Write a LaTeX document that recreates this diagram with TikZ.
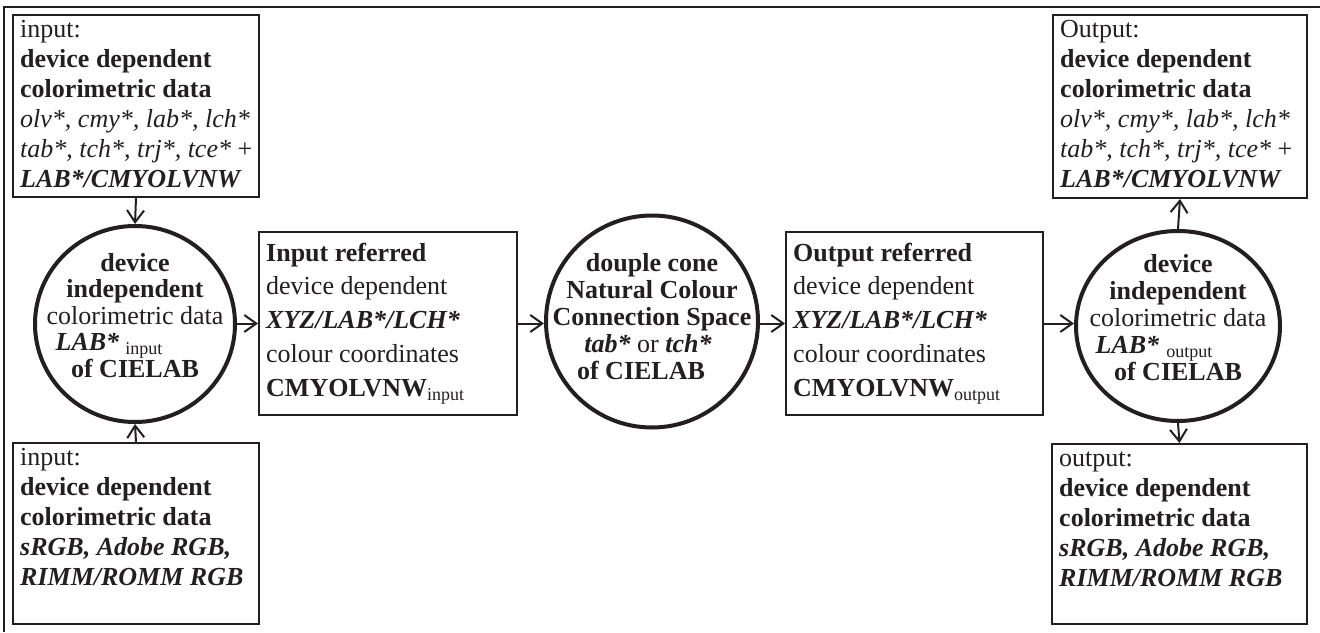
\documentclass[tikz,border=0pt]{standalone}
\usepackage{fontspec}
\setmainfont{Liberation Serif}
\usetikzlibrary{shapes.geometric,arrows.meta}
\definecolor{ink}{RGB}{35,31,32}

% stacked lines of text, first baseline is the node's base
\newcommand\leftstack[3]{\begin{minipage}[t]{#1pt}\raggedright\fontsize{26}{#2}\selectfont #3\end{minipage}}
\newcommand\centerstack[3]{\begin{minipage}[t]{#1pt}\centering\fontsize{26}{#2}\selectfont #3\end{minipage}}
\newcommand\lowsub[1]{{\fontsize{18}{18}\selectfont\raisebox{-4pt}{#1}}}
\newcommand\bi[1]{\textbf{\textit{#1}}}
% trailing room kept at the end of a centred line
\newcommand\padright[1]{\hspace*{#1}\mbox{}}

\begin{document}
\begin{tikzpicture}[x=1pt,y=-1pt,
  frameline/.style={draw=ink, line width=2pt},
  databox/.style={draw=ink, line width=2pt, rectangle, inner sep=0pt, anchor=north west},
  hub/.style={draw=ink, line width=4pt, ellipse, inner sep=0pt},
  arr/.style={draw=ink, line width=2pt, -{Straight Barb[length=12pt,width=17pt]}},
  lefttext/.style={anchor=base west, inner sep=0pt, text=ink},
  centertext/.style={anchor=base, inner sep=0pt, text=ink}]
\useasboundingbox (0,0) rectangle (1320,632);
\fill[white] (0,0) rectangle (1320,632);

% outer frame (top and left edges)
\coordinate (frameBL) at (4,632);
\coordinate (frameTL) at (4,7);
\coordinate (frameTR) at (1320,7);
\draw[frameline] (frameBL) -- (frameTL) -- (frameTR);

% input side boxes
\node[databox, minimum width=246pt, minimum height=182pt] (inTop) at (12,14) {};
\node[lefttext] (inTopTxt) at (20,37) {\leftstack{240}{30}{input:\\
  \textbf{device dependent}\\
  \textbf{colorimetric data}\\
  \textit{olv*, cmy*, lab*, lch*}\\
  \textit{tab*, tch*, trj*, tce*} +\\
  \bi{LAB*/CMYOLVNW}}};

\node[databox, minimum width=246pt, minimum height=181pt] (inBot) at (12,442) {};
\node[lefttext] (inBotTxt) at (20,465) {\leftstack{240}{30}{input:\\
  \textbf{device dependent}\\
  \textbf{colorimetric data}\\
  \bi{sRGB, Adobe RGB,}\\
  \bi{RIMM/ROMM RGB}}};

% output side boxes
\node[databox, minimum width=254pt, minimum height=183pt] (outTop) at (1052,14) {};
\node[lefttext] (outTopTxt) at (1060,37) {\leftstack{240}{30}{Output:\\
  \textbf{device dependent}\\
  \textbf{colorimetric data}\\
  \textit{olv*, cmy*, lab*, lch*}\\
  \textit{tab*, tch*, trj*, tce*} +\\
  \bi{LAB*/CMYOLVNW}}};

\node[databox, minimum width=255pt, minimum height=180pt] (outBot) at (1051,443) {};
\node[lefttext] (outBotTxt) at (1059,466) {\leftstack{240}{30}{output:\\
  \textbf{device dependent}\\
  \textbf{colorimetric data}\\
  \bi{sRGB, Adobe RGB,}\\
  \bi{RIMM/ROMM RGB}}};

% referred boxes
\node[databox, minimum width=258pt, minimum height=183pt] (inRef) at (258,231) {};
\node[lefttext] (inRefTxt) at (266,261) {\leftstack{250}{33.75}{\textbf{Input referred}\\
  device dependent\\
  \bi{XYZ/LAB*/LCH*}\\
  colour coordinates\\
  \textbf{CMYOLVNW}\lowsub{input}}};

\node[databox, minimum width=257pt, minimum height=183pt] (outRef) at (785,231) {};
\node[lefttext] (outRefTxt) at (793,261) {\leftstack{250}{33.75}{\textbf{Output referred}\\
  device dependent\\
  \bi{XYZ/LAB*/LCH*}\\
  colour coordinates\\
  \textbf{CMYOLVNW}\lowsub{output}}};

% colour space hubs
\node[hub, minimum width=200pt, minimum height=196pt] (lC) at (135,324) {};
\node[centertext] (lCTxt) at (135,271) {\centerstack{210}{26.5}{\textbf{device}\\
  \textbf{independent}\\
  colorimetric data\\
  \bi{LAB*}\hspace{6pt}\lowsub{input}\padright{52pt}\\
  \textbf{of CIELAB}}};

\node[hub, minimum width=212pt, minimum height=212pt] (mC) at (652,321.5) {};
\node[centertext] (mCTxt) at (652,271) {\centerstack{230}{27}{\textbf{douple cone}\\
  \textbf{Natural Colour}\\
  \textbf{Connection Space}\\
  \bi{tab*} or \bi{tch*}\padright{8pt}\\
  \textbf{of CIELAB}\padright{22pt}}};

\node[hub, minimum width=204pt, minimum height=190pt] (rC) at (1178,326) {};
\node[centertext] (rCTxt) at (1178,272) {\centerstack{210}{27}{\textbf{device}\\
  \textbf{independent}\\
  colorimetric data\\
  \bi{LAB*}\hspace{7pt}\lowsub{output}\padright{48pt}\\
  \textbf{of CIELAB}}};

% connectors
\draw[arr] (inTop.south) -- (lC.north);
\draw[arr] (inBot.north) -- (lC.south);
\draw[arr] (lC.east |- inRef.west) -- (inRef.west);
\draw[arr] (inRef.east) -- (mC.west |- inRef.east);
\draw[arr] (mC.east |- outRef.west) -- (outRef.west);
\draw[arr] (outRef.east) -- (rC.west |- outRef.east);
\draw[arr] (rC.north) -- (outTop.south);
\draw[arr] (rC.south) -- (outBot.north);
\end{tikzpicture}
\end{document}
